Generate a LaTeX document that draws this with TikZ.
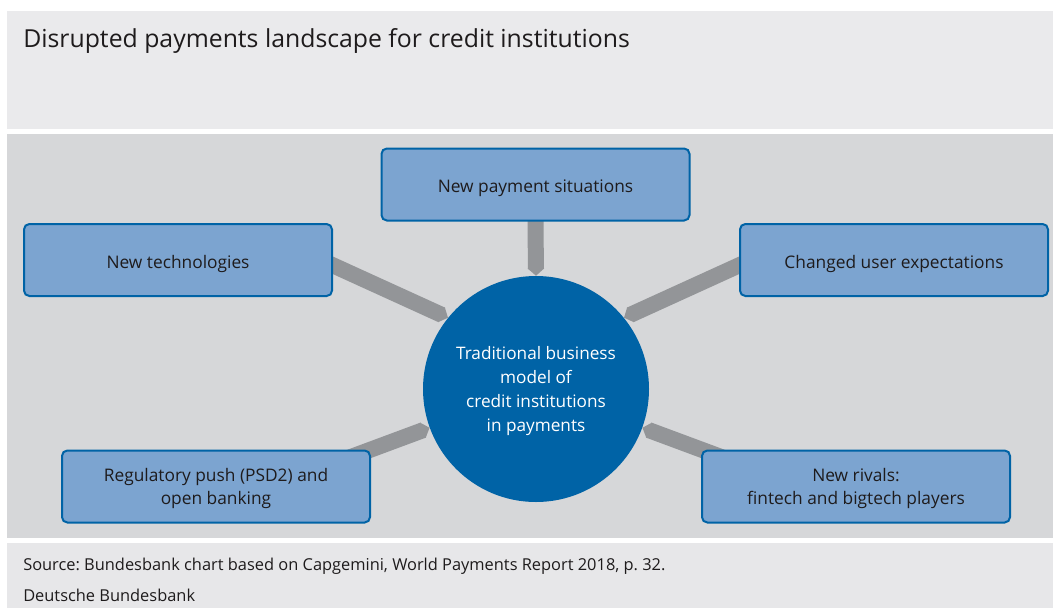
\documentclass[tikz,border=0pt]{standalone}
\usepackage{fontspec}
\setmainfont{Open Sans}
\usetikzlibrary{arrows.meta}

\definecolor{bbblue}{HTML}{0063A6}
\definecolor{boxblue}{HTML}{7CA4D0}
\definecolor{bargray}{HTML}{939598}
\definecolor{panellight}{HTML}{EAEAEC}
\definecolor{panelmid}{HTML}{D6D7D9}
\definecolor{panelfoot}{HTML}{E7E7E9}
\definecolor{txtdark}{HTML}{1E1B1C}

\pgfdeclarelayer{background}
\pgfdeclarelayer{bars}
\pgfsetlayers{background,bars,main}

\frenchspacing
\begin{document}
\begin{tikzpicture}[
  x=0.75pt, y=-0.75pt,
  font=\fontsize{12.3}{14}\selectfont, text=txtdark,
  box/.style={draw=bbblue, line width=1.5pt, rounded corners=4pt, fill=boxblue,
              align=center, minimum width=231pt, minimum height=54pt, inner sep=0pt,
              text depth=0pt, execute at begin node={\rule{0pt}{12.5pt}},
              font=\fontsize{13}{17.25}\selectfont},
  hub/.style={circle, fill=bbblue, text=white, minimum size=169.5pt, inner sep=0pt,
              align=center, text depth=0pt, font=\fontsize{12.9}{18}\selectfont},
  bar/.style={line width=12pt, draw=bargray,
              -{Triangle[length=0pt 0.45, width=0pt 1]}},
]
\useasboundingbox (0,0) rectangle (1053,608);
% Panels
\begin{pgfonlayer}{background}
  \fill[white] (0,0) rectangle (1053,608);
  \fill[panellight] (7,11) rectangle (1053,129);
  \fill[panelmid] (7,134) rectangle (1053,538);
  \fill[panelfoot] (7,543) rectangle (1053,608);
\end{pgfonlayer}
% Heading and source
\node[anchor=base west, inner sep=0pt, font=\fontsize{18.6}{22}\selectfont] (title)
  at (23,47) {Disrupted payments landscape for credit institutions};
\node[anchor=base west, inner sep=0pt] (source) at (23,570)
  {Source: Bundesbank chart based on Capgemini, World Payments Report 2018, p.~32.};
\node[anchor=base west, inner sep=0pt] (bbk) at (23,601) {Deutsche Bundesbank};
% Centre
\node[hub] (core) at (536,389)
  {Traditional business\\model of\\credit institutions\\in payments};
% Drivers
\node[box] (newsit) at (535.5,184.5) {New payment situations};
\node[box] (newtech) at (178,260) {New technologies};
\node[box] (userexp) at (894,260) {Changed user expectations};
\node[box] (regpush) at (216,486.5) {Regulatory push (PSD2) and\\open banking};
\node[box] (rivals) at (856,486.5) {New rivals:\\fintech and bigtech players};
% Pressure bars
\begin{pgfonlayer}{bars}
  \draw[bar, shorten <=-10pt] (newsit.south) -- (core.north);
  \draw[bar, shorten <=-20pt] ([yshift=-4pt]newtech.east) -- (core.141);
  \draw[bar, shorten <=-20pt] ([yshift=-4pt]userexp.west) -- (core.39);
  \draw[bar, shorten <=-20pt] (regpush.north east) -- (core.200);
  \draw[bar, shorten <=-20pt] (rivals.north west) -- (core.-20);
\end{pgfonlayer}
\end{tikzpicture}
\end{document}
